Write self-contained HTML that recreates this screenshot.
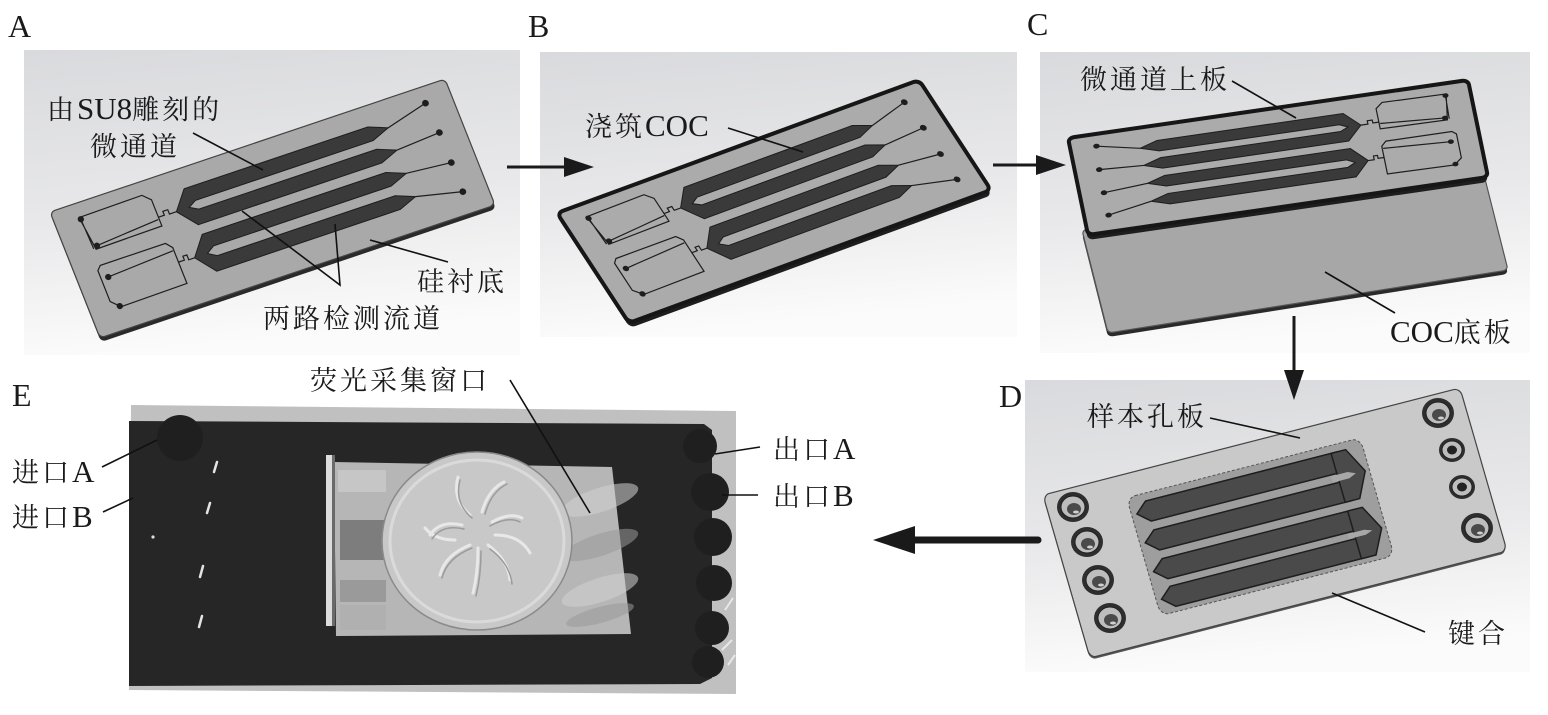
<!DOCTYPE html>
<html><head><meta charset="utf-8">
<style>
html,body{margin:0;padding:0;background:#fff;}
svg{display:block;}
.t{font-family:"Liberation Serif","Noto Serif CJK SC",serif;font-size:27px;letter-spacing:3px;fill:#1a1a1a;}
.l{font-size:31px;letter-spacing:0px;}
.p{font-family:"Liberation Serif",serif;font-size:32px;fill:#1a1a1a;}
.ld{stroke:#111;stroke-width:1.6;fill:none;}
.ns{vector-effect:non-scaling-stroke;}
</style></head><body>
<svg width="1548" height="715" viewBox="0 0 1548 715" xmlns="http://www.w3.org/2000/svg">
<defs>
<linearGradient id="bg" x1="0" y1="0" x2="0.15" y2="1">
<stop offset="0" stop-color="#d9dadd"/><stop offset="0.55" stop-color="#e8e8ea"/><stop offset="1" stop-color="#fbfbfb"/>
</linearGradient>
<g id="chip">
 <polygon class="ns" fill="#3a3a3a" stroke="#1e1e1e" stroke-width="1" points="314,20 332,27 314,34 134,34 126,38.5 134,43 314,43 332,50 314,57 128,57 113,38.5 128,20"/>
 <polygon class="ns" fill="#3a3a3a" stroke="#1e1e1e" stroke-width="1" points="314,67 332,74 314,81 134,81 126,86 134,91 314,91 332,98 314,105 128,105 113,86 128,67"/>
 <path class="ns" stroke="#1e1e1e" stroke-width="1.2" fill="none" d="M332,27 L374,16 M332,50 L376,47 M332,74 L376,78 M332,98 L376,108"/>
 <path class="ns" stroke="#1e1e1e" stroke-width="1.2" fill="none" d="M95,38 L101,38 L101,34 L106,34 L106,38.5 L113,38.5 M97,85 L103,85 L103,81 L107,81 L107,86 L113,86"/>
 <path class="ns" stroke="#1e1e1e" stroke-width="1.2" fill="none" d="M24,14 L88,13 L95,20 L95,47 L28,48 Z M25,16 L26,47 M30,45 L94,40"/>
 <path class="ns" stroke="#1e1e1e" stroke-width="1.2" fill="none" d="M22,68 L26,64 L92,64 L97,70 L97,107 L30,108 L22,100 Z M29,77 L96,73"/>
 <g fill="#1e1e1e">
  <circle cx="374" cy="16" r="3.2"/><circle cx="376" cy="47" r="3.2"/><circle cx="376" cy="78" r="3.2"/><circle cx="376" cy="108" r="3.2"/>
  <circle cx="25" cy="16" r="3"/><circle cx="30" cy="45" r="3"/><circle cx="29" cy="77" r="3"/><circle cx="29" cy="107" r="3"/>
 </g>
</g>
</defs>

<!-- Panel backgrounds -->
<rect x="24" y="50" width="496" height="305" fill="url(#bg)"/>
<rect x="540" y="52" width="477" height="285" fill="url(#bg)"/>
<rect x="1040" y="52" width="490" height="301" fill="url(#bg)"/>
<rect x="1025" y="380" width="505" height="292" fill="url(#bg)"/>

<!-- Panel A chip -->
<g transform="translate(1,4)"><rect x="0" y="0" width="400" height="130" rx="5" fill="#2a2a2a" transform="matrix(0.9875,-0.3325,0.3846,0.9692,50,212)"/></g>
<rect class="ns" x="0" y="0" width="400" height="130" rx="5" fill="#a9a9a9" stroke="#444" stroke-width="1.2" transform="matrix(0.9875,-0.3325,0.3846,0.9692,50,212)"/>
<use href="#chip" transform="matrix(0.9875,-0.3325,0.3846,0.9692,50,212)"/>

<!-- Panel B chip -->
<g transform="translate(1,5)"><rect x="0" y="0" width="400" height="130" rx="6" fill="#1e1e1e" transform="matrix(0.905,-0.3325,0.5538,0.8462,557,213)"/></g>
<rect class="ns" x="0" y="0" width="400" height="130" rx="6" fill="#ababab" stroke="#161616" stroke-width="4" transform="matrix(0.905,-0.3325,0.5538,0.8462,557,213)"/>
<use href="#chip" transform="matrix(0.905,-0.3325,0.5538,0.8462,557,213)"/>

<!-- Panel C lower plate -->
<g transform="translate(0,4)"><rect x="0" y="0" width="400" height="130" rx="5" fill="#2a2a2a" transform="matrix(1,-0.1575,0.2,0.7923,1082,230)"/></g>
<rect class="ns" x="0" y="0" width="400" height="130" rx="5" fill="#a7a7a7" stroke="#555" stroke-width="1.2" transform="matrix(1,-0.1575,0.2,0.7923,1082,230)"/>
<!-- Panel C upper plate (mirrored) -->
<g transform="translate(0,5)"><rect x="0" y="0" width="400" height="130" rx="6" fill="#1e1e1e" transform="matrix(-1,0.145,0.1538,0.7462,1468,80)"/></g>
<rect class="ns" x="0" y="0" width="400" height="130" rx="6" fill="#ababab" stroke="#161616" stroke-width="4" transform="matrix(-1,0.145,0.1538,0.7462,1468,80)"/>
<use href="#chip" transform="matrix(-1,0.145,0.1538,0.7462,1468,80)"/>

<!-- Panel D plate -->
<g transform="translate(0,2)"><rect x="0" y="0" width="400" height="130" rx="6" fill="#555" transform="matrix(1.0425,-0.2675,0.3615,1.2538,1043,495)"/></g>
<g transform="matrix(1.0425,-0.2675,0.3615,1.2538,1043,495)">
 <rect class="ns" x="0" y="0" width="400" height="130" rx="6" fill="#c9c9c9" stroke="#444" stroke-width="1.2"/>
 <rect class="ns" x="74" y="18" width="224" height="94" rx="8" fill="#9e9e9e" stroke="#555" stroke-width="1" stroke-dasharray="3,2"/>
 <g fill="#4a4a4a" stroke="#1e1e1e" stroke-width="1.5">
  <polygon class="ns" points="79,32 90,24 274,24 274,40 90,40"/>
  <polygon class="ns" points="79,55 90,47 274,47 274,63 90,63"/>
  <polygon class="ns" points="79,78 90,70 274,70 274,86 90,86"/>
  <polygon class="ns" points="79,100 90,92 274,92 274,108 90,108"/>
  <polygon class="ns" points="268,24 282,24 294,43.5 282,63 268,63"/>
  <polygon class="ns" points="268,70 282,70 294,89 282,108 268,108"/>
 </g>
 <polygon points="262,41 278,41 285,43.5 278,46 262,46" fill="#a8a8a8"/>
 <polygon points="262,87 278,87 285,89 278,91 262,91" fill="#a8a8a8"/>
</g>
<!-- D holes -->
<g>
 <g transform="translate(1073,507)"><ellipse rx="16" ry="15" fill="#2e2e2e"/><ellipse rx="12" ry="11" fill="#bdbdbd" stroke="#222"/><ellipse cx="1" cy="2" rx="7" ry="6" fill="#4a4a4a"/><ellipse cx="3" cy="5" rx="3" ry="1.5" fill="#cfcfcf"/></g>
 <g transform="translate(1087,542)"><ellipse rx="16" ry="15" fill="#2e2e2e"/><ellipse rx="12" ry="11" fill="#bdbdbd" stroke="#222"/><ellipse cx="1" cy="2" rx="7" ry="6" fill="#4a4a4a"/><ellipse cx="3" cy="5" rx="3" ry="1.5" fill="#cfcfcf"/></g>
 <g transform="translate(1098,580)"><ellipse rx="16" ry="15" fill="#2e2e2e"/><ellipse rx="12" ry="11" fill="#bdbdbd" stroke="#222"/><ellipse cx="1" cy="2" rx="7" ry="6" fill="#4a4a4a"/><ellipse cx="3" cy="5" rx="3" ry="1.5" fill="#cfcfcf"/></g>
 <g transform="translate(1110,618)"><ellipse rx="16" ry="15" fill="#2e2e2e"/><ellipse rx="12" ry="11" fill="#bdbdbd" stroke="#222"/><ellipse cx="1" cy="2" rx="7" ry="6" fill="#4a4a4a"/><ellipse cx="3" cy="5" rx="3" ry="1.5" fill="#cfcfcf"/></g>
 <g transform="translate(1438,413)"><ellipse rx="16" ry="15" fill="#2e2e2e"/><ellipse rx="12" ry="11" fill="#bdbdbd" stroke="#222"/><ellipse cx="1" cy="2" rx="7" ry="6" fill="#4a4a4a"/><ellipse cx="3" cy="5" rx="3" ry="1.5" fill="#cfcfcf"/></g>
 <g transform="translate(1452,450)"><ellipse rx="13" ry="12" fill="#2e2e2e"/><ellipse rx="10" ry="9" fill="#bdbdbd" stroke="#222"/><ellipse rx="5" ry="4.5" fill="#222"/></g>
 <g transform="translate(1462,487)"><ellipse rx="13" ry="12" fill="#2e2e2e"/><ellipse rx="10" ry="9" fill="#bdbdbd" stroke="#222"/><ellipse rx="5" ry="4.5" fill="#222"/></g>
 <g transform="translate(1477,528)"><ellipse rx="16" ry="15" fill="#2e2e2e"/><ellipse rx="12" ry="11" fill="#bdbdbd" stroke="#222"/><ellipse cx="1" cy="2" rx="7" ry="6" fill="#4a4a4a"/><ellipse cx="3" cy="5" rx="3" ry="1.5" fill="#cfcfcf"/></g>
</g>

<!-- Panel E photo -->
<polygon points="131,405 736,411 736,694 129,690" fill="#c0c0c0"/>
<path d="M129,421 L704,424 L712,430 L712,678 L700,684 L129,686 Z" fill="#262626"/>
<g fill="#1f1f1f">
 <circle cx="700" cy="446" r="17"/><circle cx="710" cy="492" r="19"/><circle cx="713" cy="537" r="19"/>
 <circle cx="714" cy="583" r="18"/><circle cx="712" cy="628" r="17"/><circle cx="708" cy="662" r="16"/>
 <circle cx="180" cy="438" r="23"/>
</g>
<path d="M725,610 L733,598 M722,650 L732,640 M728,665 L735,655" stroke="#e8e8e8" stroke-width="2"/>
<!-- window -->
<polygon points="334,462 612,467 631,634 336,636" fill="#b6b6b6"/>
<g opacity="0.55">
 <ellipse cx="600" cy="500" rx="40" ry="12" fill="#d2d2d2" transform="rotate(-18 600 500)"/>
 <ellipse cx="600" cy="545" rx="40" ry="11" fill="#9a9a9a" transform="rotate(-18 600 545)"/>
 <ellipse cx="600" cy="590" rx="40" ry="12" fill="#d2d2d2" transform="rotate(-18 600 590)"/>
 <ellipse cx="600" cy="615" rx="35" ry="8" fill="#9a9a9a" transform="rotate(-15 600 615)"/>
</g>
<rect x="338" y="470" width="48" height="22" fill="#c6c6c6"/>
<rect x="340" y="520" width="46" height="40" fill="#7d7d7d"/>
<rect x="340" y="580" width="46" height="22" fill="#9a9a9a"/>
<rect x="340" y="605" width="46" height="25" fill="#b0b0b0"/>
<rect x="326" y="455" width="6" height="171" fill="#dcdcdc"/>
<rect x="332" y="455" width="3" height="171" fill="#6a6a6a"/>
<!-- coin -->
<ellipse cx="477" cy="541" rx="95" ry="89" fill="#c8c8c8" stroke="#8a8a8a" stroke-width="1.5"/>
<ellipse cx="477" cy="541" rx="87" ry="81" fill="none" stroke="#dadada" stroke-width="3"/>
<g fill="none" stroke-linecap="round">
 <g stroke="#e8e8e8" stroke-width="3">
  <path d="M470,515 q-18,-15 -12,-38"/><path d="M482,512 q6,-22 22,-30"/><path d="M492,522 q18,-10 30,-4"/>
  <path d="M462,525 q-22,-5 -32,10"/><path d="M470,545 q-25,10 -30,30"/><path d="M488,545 q20,15 22,35"/>
  <path d="M478,548 q0,25 -5,45"/><path d="M495,535 q25,0 35,18"/><path d="M455,540 q-20,0 -30,-12"/>
 </g>
 <g stroke="#9c9c9c" stroke-width="1.5">
  <path d="M472,518 q-18,-15 -12,-38"/><path d="M485,514 q6,-22 22,-30"/><path d="M490,526 q18,-10 30,-4"/>
  <path d="M464,529 q-22,-5 -32,10"/><path d="M472,548 q-25,10 -30,30"/><path d="M490,549 q20,15 22,35"/>
  <path d="M481,551 q0,25 -5,45"/>
 </g>
</g>
<!-- white dashes -->
<path d="M217,462 L214,472 M210,503 L207,513 M203,566 L200,577 M202,616 L199,627" stroke="#e4e4e4" stroke-width="2.5" stroke-linecap="round"/>
<circle cx="153" cy="537" r="1.6" fill="#ddd"/>

<!-- Arrows -->
<line x1="507" y1="167" x2="568" y2="167" stroke="#1a1a1a" stroke-width="3"/>
<polygon points="564,157 594,167 564,177" fill="#1a1a1a"/>
<line x1="993" y1="165" x2="1040" y2="165" stroke="#1a1a1a" stroke-width="3"/>
<polygon points="1036,155 1066,165 1036,175" fill="#1a1a1a"/>
<line x1="1294" y1="316" x2="1294" y2="374" stroke="#1a1a1a" stroke-width="3"/>
<polygon points="1284,370 1294,400 1304,370" fill="#1a1a1a"/>
<line x1="910" y1="540" x2="1038" y2="540" stroke="#1a1a1a" stroke-width="7" stroke-linecap="round"/>
<polygon points="915,526 873,540 915,554" fill="#1a1a1a"/>

<!-- Leader lines -->
<g class="ld">
 <line x1="193" y1="133" x2="263" y2="170"/>
 <line x1="448" y1="262" x2="370" y2="240"/>
 <polyline points="242,211 340,285 335,224"/>
 <line x1="728" y1="128" x2="803" y2="152"/>
 <line x1="1232" y1="81" x2="1296" y2="118"/>
 <line x1="1395" y1="313" x2="1325" y2="272"/>
 <line x1="1210" y1="418" x2="1300" y2="438"/>
 <line x1="1425" y1="632" x2="1332" y2="593"/>
 <line x1="102" y1="467" x2="157" y2="440"/>
 <line x1="103" y1="512" x2="133" y2="498"/>
 <line x1="510" y1="380" x2="590" y2="513"/>
 <line x1="760" y1="447" x2="715" y2="454"/>
 <line x1="758" y1="495" x2="722" y2="495"/>
</g>

<!-- Panel letters -->
<text class="p" x="8" y="37">A</text>
<text class="p" x="528" y="37">B</text>
<text class="p" x="1027" y="35">C</text>
<text class="p" x="999" y="407">D</text>
<text class="p" x="12" y="406">E</text>

<!-- Labels -->
<text class="t" x="47" y="119">由<tspan class="l">SU8</tspan>雕刻的</text>
<text class="t" x="90" y="156">微通道</text>
<text class="t" x="417" y="291">硅衬底</text>
<text class="t" x="263" y="328">两路检测流道</text>
<text class="t" x="585" y="136">浇筑<tspan class="l">COC</tspan></text>
<text class="t" x="1080" y="89">微通道上板</text>
<text class="t" x="1390" y="342"><tspan class="l">COC</tspan>底板</text>
<text class="t" x="1087" y="426">样本孔板</text>
<text class="t" x="1448" y="643">键合</text>
<text class="t" x="12" y="482">进口<tspan class="l">A</tspan></text>
<text class="t" x="12" y="527">进口<tspan class="l">B</tspan></text>
<text class="t" x="310" y="390">荧光采集窗口</text>
<text class="t" x="773" y="459">出口<tspan class="l">A</tspan></text>
<text class="t" x="773" y="506">出口<tspan class="l">B</tspan></text>
</svg>
</body></html>
